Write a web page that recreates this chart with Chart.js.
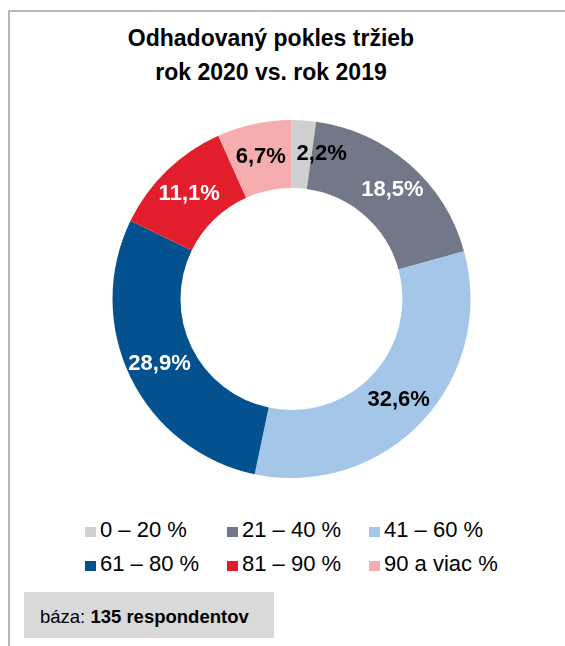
<!DOCTYPE html>
<html>
<head>
<meta charset="utf-8">
<script src="https://cdn.jsdelivr.net/npm/chart.js@4.4.1/dist/chart.umd.min.js"></script>
<style>
  html, body { margin: 0; padding: 0; background: #fff; }
  body { width: 565px; height: 646px; position: relative; overflow: hidden; font-family: "Liberation Sans", Arial, sans-serif; color: #000; }
  #frame { position: absolute; left: 8px; top: 10px; width: 600px; height: 700px; border-top: 2px solid #b8b8b8; border-left: 2px solid #b8b8b8; box-sizing: border-box; }
  #title { position: absolute; left: 8px; top: 21px; width: 526px; text-align: center; font-weight: bold; font-size: 23px; line-height: 34px; }
  #wrap { position: absolute; left: 18px; top: 110px; width: 547px; height: 378px; }
  #legend { position: absolute; left: 85px; top: 518px; }
  .row { display: flex; height: 34px; }
  .item { width: 142px; display: flex; align-items: flex-start; font-size: 22px; line-height: 24px; white-space: nowrap; }
  .box { width: 11px; height: 10px; margin-top: 9px; margin-right: 4px; flex: none; }
  #base { position: absolute; left: 24px; top: 592px; width: 250px; height: 46px; background: #d9d9d9; box-sizing: border-box; padding: 3px 0 0 16px; font-size: 18.5px; line-height: 43px; }
</style>
</head>
<body>
<div id="frame"></div>
<div id="title">Odhadovaný pokles tržieb<br>rok 2020 vs. rok 2019</div>
<div id="wrap"><canvas id="pie"></canvas></div>
<div id="legend"></div>
<div id="base">báza: <b>135 respondentov</b></div>
<script>
// kategorie a hodnoty (%)
const categories = ["0 – 20 %", "21 – 40 %", "41 – 60 %", "61 – 80 %", "81 – 90 %", "90 a viac %"];
const shares = [2.2, 18.5, 32.6, 28.9, 11.1, 6.7];
const colors = ["#cfd0d0", "#737889", "#a3c6e9", "#03528f", "#e21e2d", "#f5adb0"];
const labelColors = ["#000", "#fff", "#000", "#fff", "#fff", "#000"];

// popisky na vysekoch
const sliceLabels = {
  id: "sliceLabels",
  afterDatasetsDraw(chart) {
    const ctx = chart.ctx;
    const meta = chart.getDatasetMeta(0);
    const nudge = [[20, 2], [4, 2], [0, 0], [0, 0], [0, 0], [0, 2]];
    ctx.save();
    ctx.font = "bold 22px 'Liberation Sans', Arial, sans-serif";
    ctx.textAlign = "center";
    ctx.textBaseline = "middle";
    meta.data.forEach((arc, i) => {
      const p = arc.getProps(["x", "y", "startAngle", "endAngle", "innerRadius", "outerRadius"], true);
      const mid = (p.startAngle + p.endAngle) / 2;
      const r = (p.innerRadius + p.outerRadius) / 2 + 2;
      const x = p.x + Math.cos(mid) * r + nudge[i][0];
      const y = p.y + Math.sin(mid) * r + nudge[i][1];
      ctx.fillStyle = labelColors[i];
      ctx.fillText(shares[i].toFixed(1).replace(".", ",") + "%", x, y);
    });
    ctx.restore();
  }
};

const chart = new Chart(document.getElementById("pie"), {
  type: "doughnut",
  data: {
    labels: categories,
    datasets: [{
      data: shares,
      backgroundColor: colors,
      borderWidth: 0,
      hoverOffset: 0
    }]
  },
  options: {
    responsive: true,
    maintainAspectRatio: false,
    animation: false,
    events: [],
    cutout: "62%",
    layout: { padding: 10 },
    plugins: {
      legend: { display: false },
      tooltip: { enabled: false },
      title: { display: false }
    }
  },
  plugins: [sliceLabels]
});

// legenda 3 stlpce
const legend = document.getElementById("legend");
for (let r = 0; r < 2; r++) {
  const row = document.createElement("div");
  row.className = "row";
  for (let c = 0; c < 3; c++) {
    const i = r * 3 + c;
    const item = document.createElement("div");
    item.className = "item";
    item.innerHTML = `<span class="box" style="background:${colors[i]}"></span><span>${categories[i]}</span>`;
    row.appendChild(item);
  }
  legend.appendChild(row);
}
</script>
</body>
</html>
